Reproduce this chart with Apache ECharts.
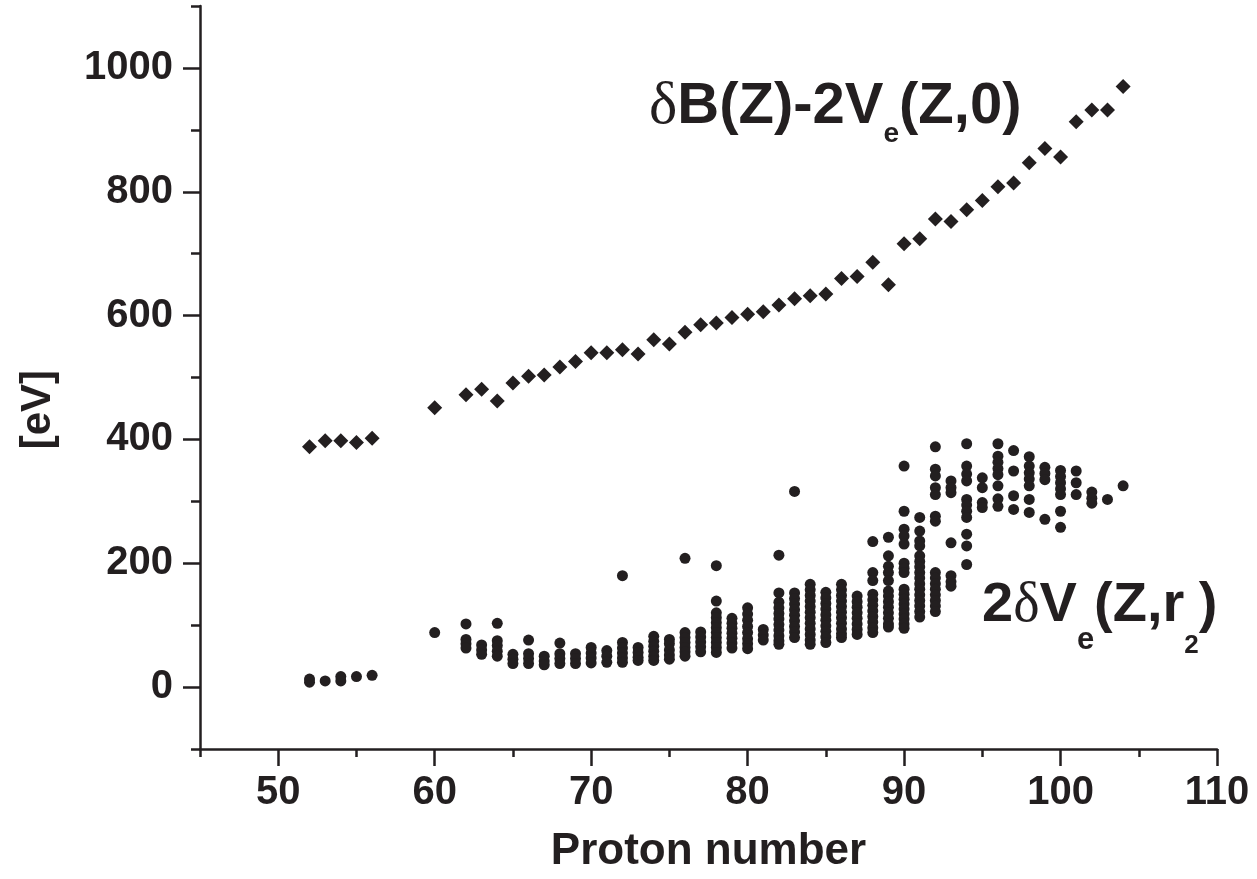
<!DOCTYPE html>
<html>
<head>
<meta charset="utf-8">
<script src="https://cdn.jsdelivr.net/npm/echarts@6/dist/echarts.min.js"></script>
<style>
html,body{margin:0;padding:0;background:#fff;}
#chart{width:1257px;height:879px;}
</style>
</head>
<body>
<div id="chart"></div>
<script>
// ---- data ----
const xMajorTicks = [50, 60, 70, 80, 90, 100, 110];
const xMinorTicks = [45, 55, 65, 75, 85, 95, 105];
const yMajorTicks = [0, 200, 400, 600, 800, 1000];
const yMinorTicks = [-100, 100, 300, 500, 700, 900, 1100];

// upper series: deltaB(Z) - 2Ve(Z,0)
const zUpper = [52, 53, 54, 55, 56, 60, 62, 63, 64, 65, 66, 67, 68, 69, 70, 71, 72, 73, 74, 75, 76, 77, 78, 79, 80, 81, 82, 83, 84, 85, 86, 87, 88, 89, 90, 91, 92, 93, 94, 95, 96, 97, 98, 99, 100, 101, 102, 103, 104];
const vUpper = [388, 398, 398, 395, 402, 451, 472, 481, 462, 491, 502, 504, 517, 526, 540, 540, 545, 538, 561, 554, 573, 585, 588, 597, 602, 606, 617, 627, 632, 635, 660, 663, 686, 650, 716, 724, 756, 752, 771, 786, 808, 814, 847, 870, 856, 913, 932, 932, 970];

// lower series: 2 deltaVe(Z,r2), several isotopes per Z
const zLower = [52, 53, 54, 55, 56, 60, 62, 63, 64, 65, 66, 67, 68, 69, 70, 71, 72, 73, 74, 75, 76, 77, 78, 79, 80, 81, 82, 83, 84, 85, 86, 87, 88, 89, 90, 91, 92, 93, 94, 95, 96, 97, 98, 99, 100, 101, 102, 103, 104];
const vLower = [
  [8, 13], [10], [10, 17], [17], [19], [88],
  [102, 77, 70, 63], [68, 60, 53], [103, 75, 67, 58, 50], [53, 45, 38],
  [76, 54, 46, 38], [50, 42, 36], [71, 54, 46, 38], [54, 46, 38],
  [64, 55, 47, 39], [59, 50, 40], [180, 72, 63, 55, 47, 40], [64, 56, 48, 43],
  [82, 74, 66, 58, 50, 43], [77, 70, 60, 52, 45], [208, 88, 80, 72, 64, 57, 50],
  [89, 81, 73, 65, 57], [196, 139, 120, 112, 104, 96, 88, 80, 72, 64, 56],
  [111, 103, 95, 87, 79, 71, 63], [128, 118, 108, 98, 88, 78, 70, 62], [93, 84, 76],
  [213, 152, 137, 128, 119, 110, 101, 92, 83, 75, 69],
  [316, 152, 143, 134, 125, 116, 107, 98, 89, 80],
  [166, 157, 148, 139, 130, 121, 112, 103, 94, 85, 76, 69],
  [153, 144, 135, 126, 117, 108, 99, 90, 81, 72],
  [166, 157, 148, 139, 130, 121, 112, 103, 94, 86, 80],
  [147, 138, 129, 120, 111, 102, 93, 85],
  [235, 185, 172, 150, 141, 132, 123, 114, 105, 96, 88],
  [242, 212, 195, 185, 172, 155, 147, 138, 129, 120, 111, 102, 97],
  [357, 284, 255, 244, 231, 200, 192, 185, 158, 150, 142, 134, 126, 118, 110, 102, 95],
  [274, 252, 236, 228, 212, 203, 194, 185, 176, 167, 158, 149, 140, 131, 122, 113],
  [388, 352, 341, 322, 311, 276, 268, 185, 176, 167, 158, 149, 140, 131, 122],
  [333, 322, 314, 233, 180, 170, 163],
  [393, 357, 344, 333, 303, 294, 284, 274, 247, 228, 198],
  [338, 322, 298, 290],
  [393, 373, 363, 353, 343, 325, 304, 292],
  [382, 349, 309, 287],
  [372, 357, 346, 336, 325, 303, 282],
  [355, 345, 335, 271],
  [350, 340, 330, 320, 311, 284, 258],
  [349, 330, 311],
  [315, 305, 297],
  [303],
  [325]
];

// ---- build ----
const upperData = zUpper.map((z, i) => [z, vUpper[i]]);
const lowerData = [];
zLower.forEach((z, i) => vLower[i].forEach(v => lowerData.push([z, v])));

const INK = '#231f20';
const FONT = "'Liberation Sans', Arial, Helvetica, sans-serif";
const SERIF = "'Liberation Serif', 'Times New Roman', serif";

const chart = echarts.init(document.getElementById('chart'), null, {renderer: 'canvas'});

const plain = v => String(v);

chart.setOption({
  backgroundColor: '#ffffff',
  animation: false,
  grid: {left: 200, right: 40, top: 6, bottom: 128, containLabel: false},
  xAxis: [
    {
      type: 'value', min: 45, max: 110, position: 'bottom',
      axisLine: {show: true, onZero: false, lineStyle: {color: INK, width: 2.5}},
      splitLine: {show: false},
      axisTick: {show: true, customValues: xMajorTicks, length: 17, lineStyle: {color: INK, width: 2.5}},
      axisLabel: {show: true, customValues: xMajorTicks, formatter: plain, margin: 24, color: INK, fontSize: 40, fontWeight: 'bold', fontFamily: FONT},
      name: 'Proton number', nameLocation: 'middle', nameGap: 81,
      nameTextStyle: {color: INK, fontSize: 44, fontWeight: 'bold', fontFamily: FONT}
    },
    {
      type: 'value', min: 45, max: 110, position: 'bottom',
      axisLine: {show: false, onZero: false},
      splitLine: {show: false},
      axisTick: {show: true, customValues: xMinorTicks, length: 8, lineStyle: {color: INK, width: 2.5}},
      axisLabel: {show: false}
    }
  ],
  yAxis: [
    {
      type: 'value', min: -100, max: 1100, position: 'left',
      axisLine: {show: true, onZero: false, lineStyle: {color: INK, width: 2.5}},
      splitLine: {show: false},
      axisTick: {show: true, customValues: yMajorTicks, length: 17, lineStyle: {color: INK, width: 2.5}},
      axisLabel: {show: true, customValues: yMajorTicks, formatter: plain, margin: 27, color: INK, fontSize: 40, fontWeight: 'bold', fontFamily: FONT}
    },
    {
      type: 'value', min: -100, max: 1100, position: 'left',
      axisLine: {show: false, onZero: false},
      splitLine: {show: false},
      axisTick: {show: true, customValues: yMinorTicks, length: 9, lineStyle: {color: INK, width: 2.5}},
      axisLabel: {show: false}
    }
  ],
  graphic: [
    {
      type: 'text', left: 17, top: 370, rotation: Math.PI / 2,
      style: {text: '[eV]', fill: INK, font: "bold 42px " + FONT}
    },
    {
      type: 'text', x: 649, y: 107,
      style: {
        text: '{d|δ}{b|B(Z)-2V}{s|e}{b|(Z,0)}',
        verticalAlign: 'middle', align: 'left',
        rich: {
          d: {fontFamily: SERIF, fontSize: 60, fill: INK, lineHeight: 60},
          b: {fontFamily: FONT, fontSize: 58, fontWeight: 'bold', fill: INK, lineHeight: 60},
          s: {fontFamily: FONT, fontSize: 28, fontWeight: 'bold', fill: INK, lineHeight: 28, padding: [54, 0, 0, 0]}
        }
      }
    },
    {
      type: 'text', x: 982, y: 606,
      style: {
        text: '{b|2}{d|δ}{b|V}{s|e}{b|(Z,r}{t|2}{b|)}',
        verticalAlign: 'middle', align: 'left',
        rich: {
          d: {fontFamily: SERIF, fontSize: 56, fill: INK, lineHeight: 56},
          b: {fontFamily: FONT, fontSize: 56, fontWeight: 'bold', fill: INK, lineHeight: 56},
          s: {fontFamily: FONT, fontSize: 31, fontWeight: 'bold', fill: INK, lineHeight: 31, padding: [68, 0, 0, 0]},
          t: {fontFamily: FONT, fontSize: 26, fontWeight: 'bold', fill: INK, lineHeight: 26, padding: [80, 0, 0, 0]}
        }
      }
    }
  ],
  series: [
    {
      name: 'upper', type: 'scatter', xAxisIndex: 0, yAxisIndex: 0,
      symbol: 'diamond', symbolSize: 15,
      itemStyle: {color: INK, opacity: 1},
      data: upperData
    },
    {
      name: 'lower', type: 'scatter', xAxisIndex: 0, yAxisIndex: 0,
      symbol: 'circle', symbolSize: 11,
      itemStyle: {color: INK, opacity: 1},
      data: lowerData
    }
  ]
});
</script>
</body>
</html>
